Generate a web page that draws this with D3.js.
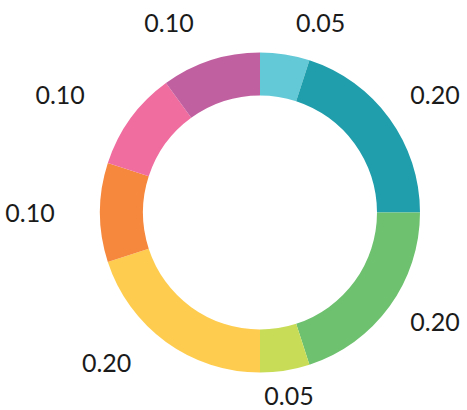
<!DOCTYPE html>
<html>
<head>
<meta charset="utf-8">
<script src="https://cdn.jsdelivr.net/npm/d3@7"></script>
<style>
  html, body { margin: 0; padding: 0; background: #ffffff; }
  svg { display: block; }
  .slice-label { font-family: Lato, "Open Sans", sans-serif; font-size: 25px; fill: #1b1b1b; }
</style>
</head>
<body>
<svg id="chart" width="467" height="410"></svg>
<script>
// Slice shares, clockwise from 12 o'clock
const categories = ["A", "B", "C", "D", "E", "F", "G", "H"];
const values = [0.05, 0.20, 0.20, 0.05, 0.20, 0.10, 0.10, 0.10];
const labels = ["0.05", "0.20", "0.20", "0.05", "0.20", "0.10", "0.10", "0.10"];
const colors = ["#64c9d7", "#209eac", "#6ec26f", "#c8dc57", "#fecd50", "#f6883d", "#f06d9f", "#c160a0"];

const width = 467, height = 410;
const cx = 260, cy = 212.5;
const outerR = 160, innerR = 117;

const svg = d3.select("#chart");
const g = svg.append("g").attr("transform", `translate(${cx},${cy})`);

const pie = d3.pie().sort(null).value(d => d.value);
const arc = d3.arc().innerRadius(innerR).outerRadius(outerR);

const data = categories.map((c, i) => ({ category: c, value: values[i], label: labels[i], color: colors[i] }));
const arcs = pie(data);

g.selectAll("path.slice")
  .data(arcs)
  .join("path")
  .attr("class", "slice")
  .attr("d", arc)
  .attr("fill", d => d.data.color);

// Outside labels: placed on an oval around the ring, pushed sideways away from it,
// and kept inside the drawing area.
function labelPos(d) {
  const a = (d.startAngle + d.endAngle) / 2;
  const s = Math.sin(a), c = Math.cos(a);
  const diag = 21 * Math.abs(s * c);
  let x;
  if (s >= 0) {
    x = 165 * s + (c < -0.9 ? 0 : 31.6) + diag;
  } else {
    x = -(210 * -s + 20 + diag);
  }
  let y = -c * (c > 0 ? 200 : 186);
  y = Math.max(-cy + 23, Math.min(height - cy - 14, y));
  return [x, y];
}

g.selectAll("text.slice-label")
  .data(arcs)
  .join("text")
  .attr("class", "slice-label")
  .attr("text-anchor", "middle")
  .attr("x", d => labelPos(d)[0])
  .attr("y", d => labelPos(d)[1])
  .attr("dy", "0.36em")
  .text(d => d.data.label);
</script>
</body>
</html>
